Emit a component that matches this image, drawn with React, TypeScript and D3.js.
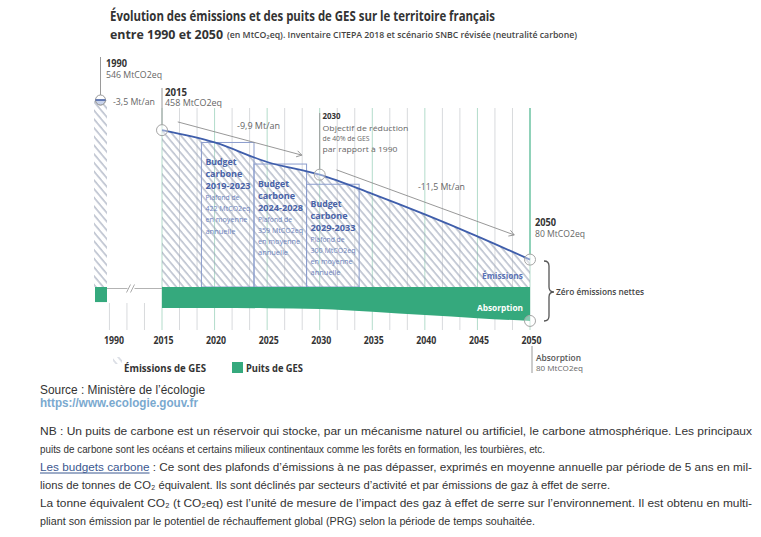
import * as d3 from "d3";
import { useEffect, useRef } from "react";

// emissions trajectory (MtCO2eq)
const years = [2015, 2020, 2025, 2030, 2035, 2040, 2045, 2050];
const emissions = [458, 422, 365, 328, 272, 212, 148, 80];
const sinks = [61, 61, 62, 64, 72, 82, 91, 99];
const emissions1990 = 546;
const sink1990 = 44;
const tickYears = [2015, 2020, 2025, 2030, 2035, 2040, 2045, 2050];

// carbon budgets
const budgetPeriods = ["2019-2023", "2024-2028", "2029-2033"];
const budgetStarts = [2019, 2024, 2029];
const budgetCaps = [422, 359, 300];

const rateLabels = ["-3,5 Mt/an", "-9,9 Mt/an", "-11,5 Mt/an"];

const noteLines = [
    "NB : Un puits de carbone est un réservoir qui stocke, par un mécanisme naturel ou artificiel, le carbone atmosphérique. Les principaux",
    "puits de carbone sont les océans et certains milieux continentaux comme les forêts en formation, les tourbières, etc.",
    " : Ce sont des plafonds d’émissions à ne pas dépasser, exprimés en moyenne annuelle par période de 5 ans en mil-",
    "lions de tonnes de CO₂ équivalent. Ils sont déclinés par secteurs d’activité et par émissions de gaz à effet de serre.",
    "La tonne équivalent CO₂ (t CO₂eq) est l’unité de mesure de l’impact des gaz à effet de serre sur l’environnement. Il est obtenu en multi-",
    "pliant son émission par le potentiel de réchauffement global (PRG) selon la période de temps souhaitée.",
];
const noteWidths = [712, 505, 712, 570, 712, 495];

const FONT = "'Open Sans', 'Noto Sans', sans-serif";
const BODY_FONT = "'Liberation Sans', Arial, sans-serif";
const GREEN = "#35a97d";
const BLUE = "#3f5eab";
const GREY = "#9a9a9a";

function drawChart(svgRef: React.RefObject<SVGSVGElement | null>) {
    const svg = d3.select(svgRef.current);
    svg.selectAll("*").remove();

    // broken x axis: 1990 gets a narrow slot before 2015
    const x = d3.scaleLinear().domain([1990, 1991, 2015, 2050]).range([94, 107, 162, 530]);
    const y = d3.scaleLinear().domain([0, 546]).range([287, 100]);
    const step = (x(2020) - x(2015)) / 3;

    function label(parent: any, str: string, px: number, py: number, size: number, weight: number,
                   fill: string, width?: number, anchor = "start", font = FONT) {
        const t = parent.append("text")
            .attr("x", px).attr("y", py)
            .attr("font-family", font).attr("font-size", size).attr("font-weight", weight)
            .attr("fill", fill).attr("text-anchor", anchor)
            .text(str);
        if (width) t.attr("textLength", width).attr("lengthAdjust", "spacingAndGlyphs");
        return t;
    }

    function arrow(x1: number, y1: number, x2: number, y2: number) {
        const a = Math.atan2(y2 - y1, x2 - x1);
        svg.append("line").attr("x1", x1).attr("y1", y1).attr("x2", x2).attr("y2", y2)
            .attr("stroke", "#8c8c8c").attr("stroke-width", 0.9);
        const p = [a + 2.6, a - 2.6].map(b => [x2 + 6 * Math.cos(b), y2 + 6 * Math.sin(b)]);
        svg.append("path")
            .attr("d", `M${p[0][0]},${p[0][1]}L${x2},${y2}L${p[1][0]},${p[1][1]}`)
            .attr("fill", "none").attr("stroke", "#8c8c8c").attr("stroke-width", 0.9);
    }

    const defs = svg.append("defs");
    defs.append("pattern").attr("id", "hatch")
        .attr("patternUnits", "userSpaceOnUse").attr("width", 5.6).attr("height", 10)
        .attr("patternTransform", "rotate(-40)")
        .append("line").attr("x1", 1).attr("y1", 0).attr("x2", 1).attr("y2", 10)
        .attr("stroke", "#939db1").attr("stroke-width", 1);

    // titles
    label(svg, "Évolution des émissions et des puits de GES sur le territoire français", 110, 20.5, 14, 700, "#333", 385);
    label(svg, "entre 1990 et 2050", 110, 38.5, 13, 700, "#333", 113);
    label(svg, "(en MtCO₂eq). Inventaire CITEPA 2018 et scénario SNBC révisée (neutralité carbone)", 227, 37.5, 8.5, 600, "#444", 350);

    // gridlines
    const grid = d3.range(22).map(i => x(2015) + i * step);
    svg.selectAll("line.grid").data(grid).enter().append("line")
        .attr("x1", d => d).attr("x2", d => d).attr("y1", 108).attr("y2", 330)
        .attr("stroke", (d, i) => (i % 3 === 0 ? "#b3dccb" : "#d8dadd")).attr("stroke-width", 1);
    svg.selectAll("line.gap").data([1, 2, 3]).enter().append("line")
        .attr("x1", d => x(2015) - d * step).attr("x2", d => x(2015) - d * step)
        .attr("y1", 303).attr("y2", 330).attr("stroke", "#d8dadd");

    // hatched emissions
    const pts = years.map((yr, i) => ({ yr, e: emissions[i], s: sinks[i] }));
    svg.append("rect")
        .attr("x", x(1990)).attr("y", y(emissions1990))
        .attr("width", x(1991) - x(1990)).attr("height", y(0) - y(emissions1990))
        .attr("fill", "url(#hatch)");
    svg.append("path").datum(pts)
        .attr("d", d3.area<any>().x(d => x(d.yr)).y0(y(0)).y1(d => y(d.e)).curve(d3.curveMonotoneX))
        .attr("fill", "url(#hatch)");

    // budget boxes
    budgetPeriods.forEach((period, i) => {
        const x0 = x(budgetStarts[i] - 0.25);
        const x1 = x(budgetStarts[i] + 4.75);
        const top = y(budgetCaps[i]);
        svg.append("rect").attr("x", x0).attr("y", top).attr("width", x1 - x0).attr("height", y(0) - top)
            .attr("fill", "none").attr("stroke", "#8b9dcd").attr("stroke-width", 1);
        const g = svg.append("g");
        const tx = x0 + 4;
        const ty = top + 23;
        label(g, "Budget", tx, ty, 8.8, 700, "#4963a8", 31);
        label(g, "carbone", tx, ty + 12, 8.8, 700, "#4963a8", 37);
        label(g, period, tx, ty + 24, 8.8, 700, "#4963a8", 45);
        label(g, "Plafond de", tx, ty + 34.5, 7, 400, "#6d83bd", 34);
        label(g, budgetCaps[i] + " MtCO2eq", tx, ty + 45.7, 7, 400, "#6d83bd", 45);
        label(g, "en moyenne", tx, ty + 56.9, 7, 400, "#6d83bd", 42);
        label(g, "annuelle", tx, ty + 68.1, 7, 400, "#6d83bd", 30);
    });

    // sinks
    svg.append("rect")
        .attr("x", x(1990) + 1).attr("y", y(0))
        .attr("width", x(1991) - x(1990) - 1).attr("height", y(-sink1990) - y(0))
        .attr("fill", GREEN);
    svg.append("path").datum(pts)
        .attr("d", d3.area<any>().x(d => x(d.yr)).y0(y(0)).y1(d => y(-d.s)).curve(d3.curveMonotoneX))
        .attr("fill", GREEN);

    // broken axis segment
    const ay = y(0) + 1.5;
    svg.append("line").attr("x1", x(1991)).attr("x2", x(2015)).attr("y1", ay).attr("y2", ay)
        .attr("stroke", "#b3b3b3").attr("stroke-width", 1.2);
    const bx = (x(1991) + x(2015)) / 2 - 4;
    svg.append("rect").attr("x", bx - 3).attr("y", ay - 2).attr("width", 7).attr("height", 4).attr("fill", "#fff");
    [bx - 2, bx + 2].forEach(b => {
        svg.append("line").attr("x1", b - 2).attr("y1", ay + 4).attr("x2", b + 2).attr("y2", ay - 4)
            .attr("stroke", "#a0a0a0").attr("stroke-width", 0.9);
    });

    // emissions line
    svg.append("path").datum(pts)
        .attr("d", d3.line<any>().x(d => x(d.yr)).y(d => y(d.e)).curve(d3.curveMonotoneX))
        .attr("fill", "none").attr("stroke", BLUE).attr("stroke-width", 1.8);

    // leader lines
    const c1990 = (x(1990) + x(1991)) / 2;
    svg.append("line").attr("x1", c1990).attr("x2", c1990).attr("y1", 57).attr("y2", y(emissions1990) - 5)
        .attr("stroke", GREY);
    svg.append("line").attr("x1", x(2015)).attr("x2", x(2015)).attr("y1", 88).attr("y2", y(458) - 5)
        .attr("stroke", GREY);
    svg.append("line").attr("x1", x(2030)).attr("x2", x(2030)).attr("y1", 113).attr("y2", y(328) - 5)
        .attr("stroke", GREY);
    svg.append("line").attr("x1", x(2050)).attr("x2", x(2050)).attr("y1", 108).attr("y2", y(80) - 5)
        .attr("stroke", "#5fbf9b").attr("stroke-width", 1.2);
    svg.append("line").attr("x1", x(2050) + 2).attr("x2", x(2050) + 2).attr("y1", 346).attr("y2", 373)
        .attr("stroke", GREY);

    // markers
    const r = 5;
    const cy = y(emissions1990);
    svg.append("circle").attr("cx", c1990).attr("cy", cy).attr("r", r)
        .attr("fill", "#fff").attr("stroke", GREY);
    svg.append("path")
        .attr("d", `M${c1990 - r},${cy}A${r},${r} 0 0 0 ${c1990 + r},${cy}Z`)
        .attr("fill", "#c9d3ea").attr("stroke", GREY);
    svg.append("line").attr("x1", c1990 - r).attr("x2", c1990 + r).attr("y1", cy).attr("y2", cy)
        .attr("stroke", BLUE).attr("stroke-width", 1.4);
    [[2015, 458], [2030, 328], [2050, 80], [2050, -99]].forEach(([yr, v]) => {
        svg.append("circle").attr("cx", x(yr)).attr("cy", y(v)).attr("r", 5.5)
            .attr("fill", "#fff").attr("fill-opacity", 0.4).attr("stroke", "#a5a5a5");
    });

    // rate arrows
    arrow(x(2016.5), y(482), x(2028.3), y(385));
    arrow(x(2031.6), y(342), x(2048.5), y(152));

    // annotations
    label(svg, "1990", 106, 67, 10.5, 700, "#333", 21);
    label(svg, "546 MtCO2eq", 106, 77.5, 8.5, 400, "#666", 56);
    label(svg, rateLabels[0], 113, 104.5, 8.5, 400, "#666", 42);
    label(svg, "2015", 165, 95.5, 10.5, 700, "#333", 22);
    label(svg, "458 MtCO2eq", 165, 106, 8.5, 400, "#666", 57);
    label(svg, rateLabels[1], 237, 129, 8.5, 400, "#666", 43);
    label(svg, "2030", 322.5, 119, 9.5, 700, "#333", 18);
    label(svg, "Objectif de réduction", 322.5, 130.5, 8, 400, "#666", 86);
    label(svg, "de 40% de GES", 322.5, 141, 8, 400, "#666", 47);
    label(svg, "par rapport à 1990", 322.5, 151.5, 8, 400, "#666", 75);
    label(svg, rateLabels[2], 418, 190, 8.5, 400, "#666", 47);
    label(svg, "2050", 535, 225.5, 10.5, 700, "#333", 21);
    label(svg, "80 MtCO2eq", 535, 236.5, 8.5, 400, "#666", 50);
    label(svg, "Émissions", 523, 279, 9.5, 700, "#5b73b6", 41, "end");
    label(svg, "Absorption", 523, 311, 9.5, 700, "#fff", 46, "end");
    label(svg, "Zéro émissions nettes", 556, 295, 9.5, 600, "#444", 88);
    label(svg, "Absorption", 536, 361, 8.5, 600, "#555", 45);
    label(svg, "80 MtCO2eq", 536, 370.5, 8, 400, "#666", 47);

    // brace
    svg.append("path")
        .attr("d", "M544,261Q549,261 549,266L549,287Q549,292 554,292Q549,292 549,297L549,316Q549,321 544,321")
        .attr("fill", "none").attr("stroke", "#555").attr("stroke-width", 1.3);

    // tick labels
    label(svg, "1990", x(1991) + 7, 344, 10, 700, "#333", 20, "middle");
    tickYears.forEach(yr => label(svg, String(yr), x(yr) + 1.5, 344, 10, 700, "#333", 20, "middle"));

    // legend
    svg.append("rect").attr("x", 113).attr("y", 357).attr("width", 9).attr("height", 7)
        .attr("fill", "url(#hatch)").attr("opacity", 0.6);
    label(svg, "Émissions de GES", 124, 372, 11, 700, "#333", 82);
    svg.append("rect").attr("x", 232).attr("y", 362).attr("width", 11).attr("height", 11).attr("fill", GREEN);
    label(svg, "Puits de GES", 246, 372, 11, 700, "#333", 57);

    // source and notes
    label(svg, "Source : Ministère de l’écologie", 40, 394, 12, 400, "#333", 165, "start", BODY_FONT);
    label(svg, "https://www.ecologie.gouv.fr", 40, 407, 12, 700, "#7aa9cf", 158, "start", BODY_FONT);

    noteLines.forEach((line, i) => {
        const t = svg.append("text")
            .attr("x", 40).attr("y", 435 + i * 18)
            .attr("font-family", BODY_FONT).attr("font-size", 11.5).attr("fill", "#333");
        if (i === 2) {
            t.append("tspan").attr("fill", "#3b5890").text("Les budgets carbone");
        }
        t.append("tspan").text(line);
        t.attr("textLength", noteWidths[i]).attr("lengthAdjust", "spacingAndGlyphs");
        if (i === 2) {
            const node = t.node() as SVGTextElement;
            let w = 102;
            try { w = node.getSubStringLength(0, 19); } catch (e) { /* keep default */ }
            svg.append("line").attr("x1", 40).attr("x2", 40 + w)
                .attr("y1", 435 + i * 18 + 2).attr("y2", 435 + i * 18 + 2)
                .attr("stroke", "#3b5890").attr("stroke-width", 1);
        }
    });
}

export default function App() {
    const svgRef = useRef<SVGSVGElement>(null);
    useEffect(() => {
        drawChart(svgRef);
    }, []);

    return (
        <svg
            ref={svgRef}
            width={761}
            height={537}
            style={{ position: "absolute", left: 0, top: 0, background: "#fff" }}
        />
    );
}
